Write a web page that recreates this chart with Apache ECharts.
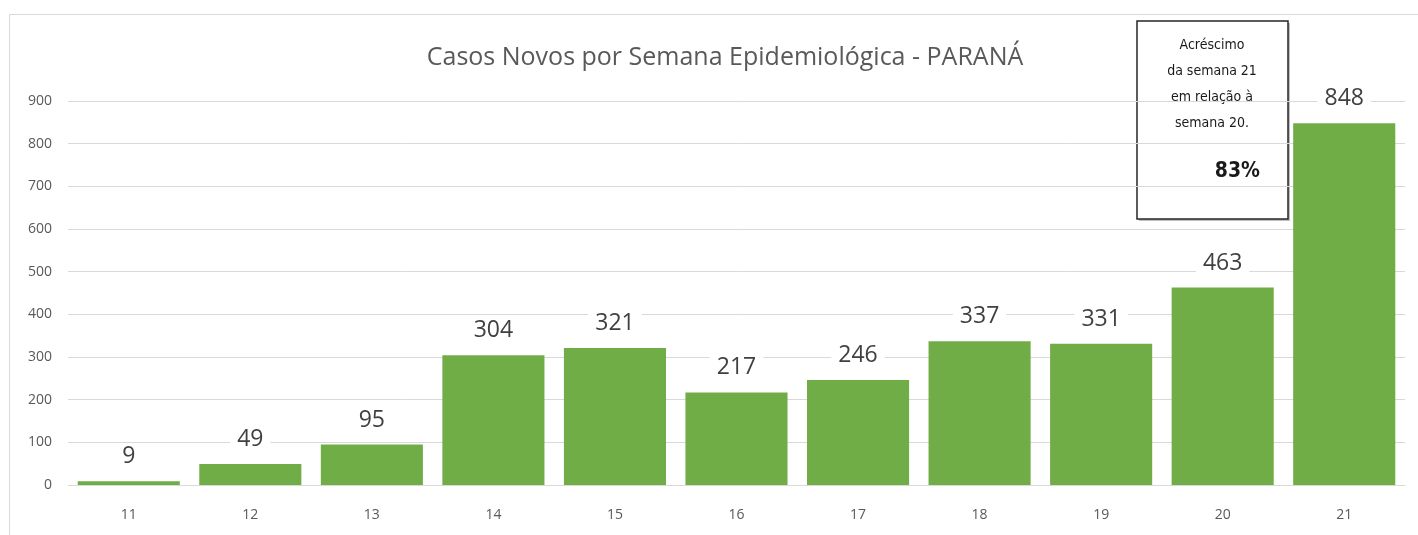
<!DOCTYPE html>
<html>
<head>
<meta charset="utf-8">
<script src="https://cdn.jsdelivr.net/npm/echarts@6/dist/echarts.min.js"></script>
<style>
  html, body { margin: 0; padding: 0; background: #fff; }
  #chart { width: 1418px; height: 535px; }
</style>
</head>
<body>
<div id="chart"></div>
<script>
// semanas epidemiológicas e casos novos
var semanas = ['11', '12', '13', '14', '15', '16', '17', '18', '19', '20', '21'];
var casosNovos = [9, 49, 95, 304, 321, 217, 246, 337, 331, 463, 848];
var yTicks = [0, 100, 200, 300, 400, 500, 600, 700, 800, 900];

var titulo = 'Casos Novos por Semana Epidemiológica - PARANÁ';
var notaLinhas = ['Acréscimo', 'da semana 21', 'em relação à', 'semana 20.'];
var notaPct = '83%';

var myChart = echarts.init(document.getElementById('chart'));

var notaTextos = [];
for (var i = 0; i < notaLinhas.length; i++) {
	notaTextos.push({
		type: 'text',
		x: 75, y: 24 + i * 26,
		style: {
			text: notaLinhas[i],
			fill: '#1a1a1a',
			font: '14px "DejaVu Sans Condensed", "Open Sans", sans-serif',
			align: 'center',
			verticalAlign: 'middle'
		}
	});
}
notaTextos.push({
	type: 'text',
	x: 123, y: 151,
	style: {
		text: notaPct,
		fill: '#1a1a1a',
		font: 'bold 21px "DejaVu Sans Condensed", "Open Sans", sans-serif',
		align: 'right',
		verticalAlign: 'middle'
	}
});

var option = {
	animation: false,
	backgroundColor: '#fff',
	title: {
		text: titulo,
		left: 720,
		top: 40,
		textAlign: 'center',
		textStyle: {
			fontFamily: '"Open Sans", sans-serif',
			fontSize: 25,
			fontWeight: 'normal',
			color: '#595959'
		}
	},
	grid: {
		left: 68,
		right: 13,
		top: 101,
		bottom: 50
	},
	xAxis: {
		type: 'category',
		data: semanas,
		axisLine: { show: true, lineStyle: { color: '#d9d9d9', width: 1 } },
		axisTick: { show: false },
		axisLabel: {
			color: '#595959',
			fontSize: 14,
			fontFamily: '"Open Sans", sans-serif',
			margin: 23
		}
	},
	yAxis: {
		type: 'value',
		min: 0,
		max: yTicks[yTicks.length - 1],
		interval: 100,
		axisLine: { show: false },
		axisTick: { show: false },
		splitLine: { lineStyle: { color: '#d9d9d9', width: 1 } },
		axisLabel: {
			color: '#595959',
			fontSize: 14,
			fontFamily: '"Open Sans", sans-serif',
			margin: 16
		}
	},
	series: [{
		type: 'bar',
		data: casosNovos,
		barCategoryGap: '16%',
		itemStyle: { color: '#70ad47' },
		label: {
			show: true,
			position: 'top',
			distance: 13,
			color: '#404040',
			fontSize: 23,
			fontFamily: '"Open Sans", sans-serif',
			backgroundColor: '#fff',
			padding: [0, 7]
		}
	}],
	graphic: [
		{
			// borda da área do gráfico
			type: 'rect',
			shape: { x: 9.5, y: 14.5, width: 1420, height: 540 },
			style: { fill: 'none', stroke: '#d9d9d9', lineWidth: 1 },
			silent: true
		},
		{
			type: 'group',
			x: 1137,
			y: 21,
			children: [
				{
					type: 'rect',
					shape: { x: 2, y: 2, width: 151, height: 198 },
					style: { fill: '#bfbfbf' }
				},
				{
					type: 'rect',
					shape: { x: 0, y: 0, width: 151, height: 198 },
					style: { fill: '#fff', stroke: '#262626', lineWidth: 1.5 }
				}
			].concat(notaTextos)
		}
	]
};
myChart.setOption(option);
</script>
</body>
</html>
